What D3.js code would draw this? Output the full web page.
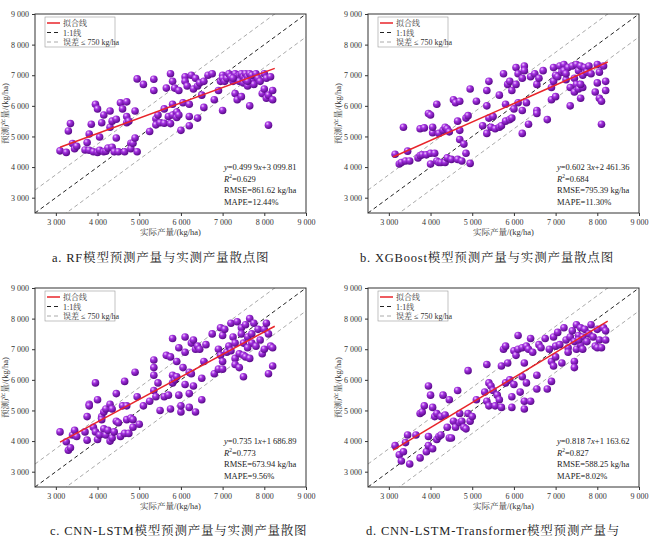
<!DOCTYPE html>
<html>
<head>
<meta charset="utf-8" />
<script src="https://cdn.jsdelivr.net/npm/d3@7"></script>
<style>
body { margin: 0; background: #fff; }
text { font-family: "Liberation Serif", "Noto Serif CJK SC", "Noto Sans CJK SC", serif; }
</style>
</head>
<body>
<svg id="chart" width="650" height="547"></svg>
<script>
var ticks = [3000, 4000, 5000, 6000, 7000, 8000, 9000];

var ptsA = [[3100,4530],[3250,4480],[3300,5180],[3350,5420],[3400,4770],[3450,4600],[3500,4680],[3700,4560],[3750,4800],[3800,5080],[3800,4550],[3850,5400],[3900,4500],[3950,6050],[4000,4480],[4000,5900],[4050,4550],[4050,4980],[4100,5450],[4150,4500],[4150,5700],[4200,4520],[4250,4620],[4300,5830],[4300,5300],[4350,4650],[4350,5500],[4400,4500],[4450,5560],[4450,4950],[4500,4500],[4550,6100],[4600,5900],[4650,4500],[4700,6130],[4700,5650],[4700,5450],[4750,5500],[4800,4780],[4800,4600],[4850,4780],[4900,4950],[4900,5830],[4950,4500],[4950,6880],[5100,6700],[5250,5160],[5350,6870],[5350,6500],[5400,5580],[5400,5380],[5450,5700],[5500,5450],[5600,5430],[5600,5900],[5650,6580],[5700,5650],[5750,7050],[5750,5420],[5800,6800],[5800,6050],[5800,5700],[5850,6580],[5900,5800],[5900,5620],[5950,6500],[5950,5700],[6000,5200],[6050,6100],[6100,6950],[6100,6800],[6150,6650],[6200,5650],[6200,6050],[6200,5350],[6250,7000],[6300,6550],[6350,6900],[6400,5600],[6400,6650],[6450,6750],[6500,6350],[6550,5950],[6550,6800],[6650,7000],[6750,7050],[6800,6200],[6900,6500],[6950,6800],[7000,5850],[7000,7000],[7000,6900],[7050,6800],[7100,6900],[7150,7050],[7200,6950],[7250,6800],[7300,7050],[7300,6400],[7350,6200],[7350,6950],[7400,7000],[7400,6800],[7450,6300],[7450,7050],[7500,6950],[7500,6750],[7550,7050],[7550,6850],[7600,6950],[7600,6650],[7650,7050],[7650,6000],[7700,6850],[7700,7000],[7750,6700],[7800,7050],[7850,6900],[7900,6800],[7950,6400],[8000,7050],[8000,6550],[8050,6250],[8050,6900],[8100,5370],[8100,6350],[8150,6950],[8200,6500],[8200,6200],[7250,6900],[7600,6800]];

var ptsB = [[3150,4420],[3250,4100],[3300,4150],[3350,5300],[3400,4200],[3450,4520],[3500,4200],[3700,4300],[3750,5250],[3750,4380],[3800,4400],[3850,5280],[3900,4400],[3950,5750],[4000,5700],[4000,4450],[4000,4100],[4050,5120],[4050,5300],[4100,4450],[4150,6050],[4150,4200],[4200,5100],[4200,4150],[4250,4150],[4300,5200],[4350,5300],[4350,4150],[4400,5250],[4400,4300],[4450,5150],[4500,4250],[4550,6200],[4600,6100],[4650,5500],[4650,4250],[4700,6150],[4700,5200],[4700,4900],[4750,4200],[4800,4750],[4850,4450],[4850,5600],[4900,5680],[4950,4120],[4950,6550],[5100,6150],[5250,5350],[5350,6500],[5350,6000],[5350,5100],[5400,6800],[5400,5600],[5450,5300],[5500,5650],[5550,5250],[5650,6350],[5650,5300],[5700,5350],[5750,7050],[5800,6050],[5800,5500],[5850,6700],[5900,5550],[5900,6800],[5950,5600],[5950,6500],[6000,5900],[6050,6700],[6050,7250],[6100,7050],[6100,6100],[6200,6900],[6200,5850],[6200,5100],[6250,7300],[6250,7150],[6300,6100],[6350,5400],[6400,6950],[6500,7050],[6550,5850],[6550,5750],[6550,6700],[6600,6900],[6700,7150],[6800,5550],[6900,6600],[6900,6200],[6950,7250],[6950,6800],[7000,6300],[7000,7000],[7050,6950],[7100,7300],[7150,7100],[7200,7350],[7200,7150],[7250,6850],[7300,7250],[7350,6600],[7350,6000],[7400,7300],[7450,6900],[7450,6450],[7500,7350],[7500,6700],[7550,7150],[7550,6550],[7600,6250],[7600,7300],[7650,6600],[7650,7000],[7700,7250],[7750,7100],[7800,7300],[7850,7050],[7950,6450],[8000,7350],[8000,6750],[8050,6250],[8050,7100],[8100,5400],[8100,6150],[8150,7300],[8200,6800],[8200,6500],[7250,7050],[7600,6700]];

var ptsC = [[3100,4300],[3250,3980],[3300,3700],[3350,3780],[3400,4200],[3450,4350],[3500,4150],[3700,4300],[3750,4800],[3750,4030],[3800,5200],[3800,5150],[3900,4450],[3950,5900],[3950,4300],[4000,5350],[4000,4050],[4050,4200],[4100,4800],[4100,4700],[4150,4950],[4150,4400],[4200,5050],[4200,4200],[4250,4350],[4300,5200],[4300,4000],[4350,5050],[4350,4100],[4400,4300],[4450,5550],[4450,4650],[4500,4600],[4550,4150],[4600,5150],[4650,5950],[4650,4250],[4700,5150],[4700,4700],[4750,4250],[4800,4750],[4850,4700],[4850,4450],[4900,6250],[4950,5450],[5000,4550],[5100,5150],[5250,5300],[5350,6650],[5350,6400],[5350,6150],[5350,5650],[5400,5450],[5450,5900],[5500,5000],[5600,5450],[5650,6800],[5700,5500],[5750,5050],[5750,6750],[5800,7350],[5800,5900],[5800,6150],[5850,6000],[5900,6600],[5900,6100],[5950,5500],[5950,7050],[6000,4950],[6000,5150],[6050,6400],[6100,7400],[6100,6900],[6100,5850],[6200,6250],[6200,5550],[6200,5100],[6250,7200],[6250,6200],[6300,7300],[6300,5800],[6350,7000],[6350,4950],[6400,7100],[6450,7000],[6500,5350],[6500,6050],[6550,6600],[6600,7150],[6750,7500],[6800,6200],[6900,7000],[6900,6350],[6950,6800],[6950,7700],[7000,6350],[7000,7450],[7000,6600],[7050,7650],[7100,6900],[7150,7100],[7200,7850],[7200,6950],[7250,7400],[7300,6700],[7300,6500],[7300,7200],[7350,7900],[7400,6850],[7400,6400],[7450,7700],[7450,7500],[7500,6100],[7500,7200],[7500,6800],[7550,7800],[7550,6750],[7600,7400],[7650,8000],[7650,6700],[7700,7200],[7700,7500],[7750,7850],[7800,7100],[7850,7650],[7900,7300],[7950,6850],[8000,7650],[8000,7000],[8050,7850],[8100,6200],[8100,7500],[8150,7100],[8200,7050],[8200,6450],[7600,7050]];

var ptsD = [[3150,3850],[3250,3550],[3300,3350],[3350,3650],[3400,3950],[3450,4200],[3500,3250],[3650,4200],[3750,3450],[3750,4900],[3800,4950],[3850,5150],[3900,3650],[3950,5800],[3950,4150],[3950,3850],[4000,5500],[4050,3750],[4050,5100],[4100,4800],[4150,4900],[4150,4050],[4200,4150],[4250,4800],[4250,4200],[4300,5500],[4350,4850],[4400,4450],[4450,5350],[4450,4100],[4500,4100],[4550,4650],[4600,4450],[4650,5650],[4700,4600],[4700,4900],[4750,4650],[4800,4450],[4850,4400],[4900,4900],[4900,6300],[4950,4650],[5000,4800],[5100,5350],[5300,5600],[5350,6500],[5350,5300],[5400,5900],[5400,5150],[5450,5800],[5500,5650],[5550,5150],[5600,5500],[5650,5350],[5700,6450],[5700,5100],[5750,7000],[5800,5900],[5800,7100],[5850,6550],[5900,6000],[5950,5450],[5950,5100],[6000,5850],[6000,6950],[6050,6800],[6100,7450],[6100,7000],[6150,5600],[6200,7050],[6200,6100],[6250,5300],[6250,5050],[6250,6550],[6300,7100],[6300,5900],[6350,7000],[6400,7350],[6400,5300],[6450,6900],[6550,6150],[6550,5700],[6600,7150],[6650,7050],[6750,7350],[6800,5700],[6850,7000],[6900,6600],[6900,5950],[6950,7400],[6950,6450],[7000,6750],[7000,7100],[7050,7550],[7100,7150],[7150,6550],[7200,7700],[7250,7300],[7300,7050],[7300,6900],[7350,7400],[7400,7600],[7450,6600],[7450,6400],[7450,7250],[7500,7800],[7500,7000],[7550,7450],[7600,7700],[7600,7150],[7650,7400],[7650,7000],[7700,7650],[7750,7250],[7800,7500],[7850,7800],[7900,7400],[7950,7100],[8000,7650],[8000,7050],[8050,7300],[8100,7050],[8150,7700],[8200,7300],[8200,7600],[7550,7300]];

var fits = [[0.4999, 3099.81], [0.6023, 2461.36], [0.7351, 1686.89], [0.8187, 1163.62]];
var fitRange = [3100, 8250];
var statsText = [
  ["=0.499 9", "+3 099.81", "=0.629", "RMSE=861.62 kg/ha", "MAPE=12.44%"],
  ["=0.602 3", "+2 461.36", "=0.684", "RMSE=795.39 kg/ha", "MAPE=11.30%"],
  ["=0.735 1", "+1 686.89", "=0.773", "RMSE=673.94 kg/ha", "MAPE=9.56%"],
  ["=0.818 7", "+1 163.62", "=0.827", "RMSE=588.25 kg/ha", "MAPE=8.02%"]
];
var captions = [
  "a. RF模型预测产量与实测产量散点图",
  "b. XGBoost模型预测产量与实测产量散点图",
  "c. CNN-LSTM模型预测产量与实测产量散图",
  "d. CNN-LSTM-Transformer模型预测产量与"
];
var legendLabels = ["拟合线", "1:1线", "误差 ≤ 750 kg/ha"];

var panels = [
  {pts: ptsA, x0: 35, y0: 14, cx: 52, cy: 262},
  {pts: ptsB, x0: 368, y0: 14, cx: 360, cy: 262},
  {pts: ptsC, x0: 35, y0: 288, cx: 50, cy: 535},
  {pts: ptsD, x0: 368, y0: 288, cx: 366, cy: 535}
];
var W = 271, H = 199;

var svg = d3.select("#chart");
var defs = svg.append("defs");
var grad = defs.append("radialGradient").attr("id", "ball")
  .attr("cx", "35%").attr("cy", "30%").attr("r", "70%");
grad.append("stop").attr("offset", "0%").attr("stop-color", "#f0c8ff");
grad.append("stop").attr("offset", "35%").attr("stop-color", "#a330e0");
grad.append("stop").attr("offset", "100%").attr("stop-color", "#5a0a8a");

var fmt = function(d) { return d3.format(",")(d).replace(",", " "); };

panels.forEach(function(p, i) {
  var g = svg.append("g").attr("transform", "translate(" + p.x0 + "," + p.y0 + ")");
  var x = d3.scaleLinear().domain([2500, 9000]).range([0, W]);
  var y = d3.scaleLinear().domain([2500, 9000]).range([H, 0]);
  var clipId = "clip" + i;
  defs.append("clipPath").attr("id", clipId).append("rect").attr("width", W).attr("height", H);

  var ax = g.append("g").attr("transform", "translate(0," + H + ")")
    .call(d3.axisBottom(x).tickValues(ticks).tickFormat(fmt).tickSize(3));
  var ay = g.append("g").call(d3.axisLeft(y).tickValues(ticks).tickFormat(fmt).tickSize(3));
  [ax, ay].forEach(function(a) {
    a.select(".domain").remove();
    a.selectAll("text").attr("font-size", 8).attr("fill", "#333")
      .style("font-family", "Liberation Serif, serif");
    a.selectAll("line").attr("stroke", "#333");
  });

  var lines = g.append("g").attr("clip-path", "url(#" + clipId + ")");
  [[0, "#222"], [750, "#aaa"], [-750, "#aaa"]].forEach(function(r) {
    lines.append("line")
      .attr("x1", x(2500)).attr("y1", y(2500 + r[0]))
      .attr("x2", x(9000)).attr("y2", y(9000 + r[0]))
      .attr("stroke", r[1]).attr("stroke-width", 1).attr("stroke-dasharray", "4,3");
  });

  g.append("g").selectAll("circle").data(p.pts).join("circle")
    .attr("cx", function(d) { return x(d[0]); })
    .attr("cy", function(d) { return y(d[1]); })
    .attr("r", 3.8).attr("fill", "url(#ball)");

  var f = fits[i];
  g.append("line")
    .attr("x1", x(fitRange[0])).attr("y1", y(f[0] * fitRange[0] + f[1]))
    .attr("x2", x(fitRange[1])).attr("y2", y(f[0] * fitRange[1] + f[1]))
    .attr("stroke", "#e8252a").attr("stroke-width", 1.5);

  g.append("rect").attr("width", W).attr("height", H)
    .attr("fill", "none").attr("stroke", "#333").attr("stroke-width", 1);

  // legend
  var lg = g.append("g").attr("transform", "translate(10,3)");
  lg.append("rect").attr("width", 70).attr("height", 30)
    .attr("fill", "#fff").attr("stroke", "#999").attr("stroke-width", 0.6);
  var sty = [["#e8252a", null, 1.5], ["#222", "4,3", 1], ["#aaa", "4,3", 1]];
  legendLabels.forEach(function(l, k) {
    var yy = 6 + k * 9.5;
    lg.append("line").attr("x1", 2).attr("x2", 15).attr("y1", yy).attr("y2", yy)
      .attr("stroke", sty[k][0]).attr("stroke-width", sty[k][2])
      .attr("stroke-dasharray", sty[k][1]);
    lg.append("text").attr("x", 18).attr("y", yy + 3).attr("font-size", 8)
      .attr("fill", "#333").text(l);
  });

  // stats
  var s = statsText[i];
  var st = g.append("g").attr("transform", "translate(189,156)").attr("font-size", 8.5).attr("fill", "#222");
  var t0 = st.append("text").attr("y", 0);
  t0.append("tspan").attr("font-style", "italic").text("y");
  t0.append("tspan").text(s[0]);
  t0.append("tspan").attr("font-style", "italic").text("x");
  t0.append("tspan").text(s[1]);
  var t1 = st.append("text").attr("y", 11.5);
  t1.append("tspan").attr("font-style", "italic").text("R");
  t1.append("tspan").attr("font-size", 5.5).attr("dy", -3.5).text("2");
  t1.append("tspan").attr("dy", 3.5).text(s[2]);
  st.append("text").attr("y", 23).text(s[3]);
  st.append("text").attr("y", 34.5).text(s[4]);

  g.append("text").attr("x", W / 2).attr("y", H + 22).attr("text-anchor", "middle")
    .attr("font-size", 8.5).attr("fill", "#333").text("实际产量/(kg/ha)");
  g.append("text").attr("transform", "translate(-27," + (H / 2) + ") rotate(-90)")
    .attr("text-anchor", "middle").attr("font-size", 8.5).attr("fill", "#333").text("预测产量/(kg/ha)");

  svg.append("text").attr("x", p.cx).attr("y", p.cy).attr("font-size", 12.5)
    .attr("letter-spacing", 0.8).attr("fill", "#222").text(captions[i]);
});
</script>
</body>
</html>
